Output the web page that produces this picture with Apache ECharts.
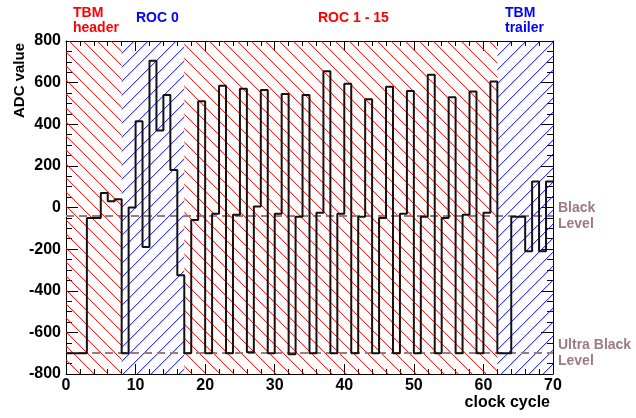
<!DOCTYPE html>
<html>
<head>
<meta charset="utf-8">
<script src="https://cdn.jsdelivr.net/npm/echarts@6/dist/echarts.min.js"></script>
<style>
  html, body { margin: 0; padding: 0; background: #fff; }
  #chart { width: 636px; height: 418px; }
</style>
</head>
<body>
<div id="chart"></div>
<script>
// ADC value of each clock cycle (bin i spans [i, i+1])
var adcValues = [
  -700, -700, -700, -50, -50, 70, 30, 40,
  -700, 0, 415, -190, 705, 370, 540, 180, -325,
  -700, -60, 510, -700, -30, 585, -700, -35, 570, -695, 5, 565,
  -700, -30, 545, -705, -45, 540, -700, -25, 655, -700, -30, 595,
  -700, -45, 520, -700, -50, 580, -700, -30, 560, -700, -45, 638,
  -700, -50, 530, -700, -35, 557, -700, -25, 605,
  -700, -700, -45, -45, -210, 125, -210, 125
];
// hatched regions: [from, to]
var regionEdges = [[0, 8], [8, 17], [17, 62], [62, 70]];
var regionKinds = ['red', 'blue', 'red', 'blue'];
var levelValues = [-40, -700];
var levelNames = ['Black\nLevel', 'Ultra Black\nLevel'];
var xTicks = [0, 10, 20, 30, 40, 50, 60, 70];
var yTicks = [-800, -600, -400, -200, 0, 200, 400, 600, 800];

var RED = '#ff0000';
var BLUE = '#0000ff';
var LEVEL = '#9c7a80';

function makeHatch (color, rgba, back) {
  var size = 14;
  var c = document.createElement('canvas');
  c.width = size;
  c.height = size;
  var ctx = c.getContext('2d');
  for (var i = 0; i < size; i++) {
    var x = back ? ((6 - i) % size + size) % size : i;
    ctx.fillStyle = color;
    ctx.fillRect(x, i, 1, 1);
    ctx.fillStyle = rgba;
    ctx.fillRect((x + 1) % size, i, 1, 1);
  }
  return { image: c, repeat: 'repeat' };
}

var hatches = {
  red: makeHatch('rgba(255,0,0,0.85)', 'rgba(255,0,0,0.2)', false),
  blue: makeHatch('rgba(0,0,255,0.8)', 'rgba(0,0,255,0.2)', true)
};

var lineData = [];
for (var i = 0; i < adcValues.length; i++) {
  lineData.push([i, adcValues[i]]);
}
lineData.push([adcValues.length, adcValues[adcValues.length - 1]]);

var areaData = regionEdges.map(function (r, i) {
  return [{ xAxis: r[0], itemStyle: { color: hatches[regionKinds[i]] } }, { xAxis: r[1] }];
});
var levelData = levelValues.map(function (v, i) {
  return { yAxis: v, label: { formatter: levelNames[i] } };
});

var labelFont = { fontFamily: 'Liberation Sans', fontWeight: 'bold', fontSize: 16, color: '#000' };

var chart = echarts.init(document.getElementById('chart'), null, { renderer: 'canvas' });
var option = {
  animation: false,
  backgroundColor: '#fff',
  grid: { left: 66, right: 83, top: 41, bottom: 44 },
  xAxis: [{
    type: 'value', min: xTicks[0], max: xTicks[xTicks.length - 1], interval: 10,
    axisLine: { onZero: false, lineStyle: { color: '#000', width: 1 } },
    axisTick: { inside: true, length: 10, lineStyle: { color: '#000' } },
    minorTick: { show: true, splitNumber: 5, length: 5, lineStyle: { color: '#000' } },
    axisLabel: Object.assign({ margin: 4 }, labelFont),
    splitLine: { show: false }
  }, {
    type: 'value', position: 'top', min: xTicks[0], max: xTicks[xTicks.length - 1], interval: 10,
    axisLine: { onZero: false, lineStyle: { color: '#000', width: 1 } },
    axisTick: { inside: true, length: 10, lineStyle: { color: '#000' } },
    minorTick: { show: true, splitNumber: 5, length: 5, lineStyle: { color: '#000' } },
    axisLabel: { show: false },
    splitLine: { show: false }
  }],
  yAxis: [{
    type: 'value', min: yTicks[0], max: yTicks[yTicks.length - 1], interval: 200,
    axisLine: { show: true, onZero: false, lineStyle: { color: '#000', width: 1 } },
    axisTick: { show: true, inside: true, length: 12, lineStyle: { color: '#000' } },
    minorTick: { show: true, splitNumber: 4, length: 6, lineStyle: { color: '#000' } },
    axisLabel: Object.assign({ margin: 5 }, labelFont),
    splitLine: { show: false }
  }, {
    type: 'value', position: 'right', min: yTicks[0], max: yTicks[yTicks.length - 1], interval: 200,
    axisLine: { show: true, onZero: false, lineStyle: { color: '#000', width: 1 } },
    axisTick: { show: true, inside: true, length: 12, lineStyle: { color: '#000' } },
    minorTick: { show: true, splitNumber: 4, length: 6, lineStyle: { color: '#000' } },
    axisLabel: { show: false },
    splitLine: { show: false }
  }],
  graphic: [
    { type: 'text', x: 73, y: 6, style: { text: 'TBM\nheader', fill: RED, font: 'bold 14px "Liberation Sans"', lineHeight: 15 } },
    { type: 'text', x: 136, y: 11, style: { text: 'ROC 0', fill: BLUE, font: 'bold 14px "Liberation Sans"' } },
    { type: 'text', x: 318, y: 11, style: { text: 'ROC 1 - 15', fill: RED, font: 'bold 14px "Liberation Sans"' } },
    { type: 'text', x: 505, y: 6, style: { text: 'TBM\ntrailer', fill: BLUE, font: 'bold 14px "Liberation Sans"', lineHeight: 15 } },
    { type: 'text', x: 20, y: 43, rotation: Math.PI / 2, style: { text: 'ADC value', fill: '#000', font: 'bold 15px "Liberation Sans"', align: 'right', verticalAlign: 'middle' } },
    { type: 'text', x: 550, y: 403, style: { text: 'clock cycle', fill: '#000', font: 'bold 16px "Liberation Sans"', align: 'right', verticalAlign: 'middle' } }
  ],
  series: [{
    type: 'line',
    step: 'end',
    symbol: 'none',
    data: lineData,
    lineStyle: { color: '#111', width: 2 },
    z: 3,
    markArea: {
      silent: true,
      z: 1,
      data: areaData
    },
    markLine: {
      silent: true,
      symbol: 'none',
      z: 2,
      lineStyle: { color: LEVEL, type: [8, 5], width: 2 },
      label: {
        position: 'end', distance: 5, color: LEVEL,
        fontFamily: 'Liberation Sans', fontWeight: 'bold', fontSize: 14, lineHeight: 16
      },
      data: levelData
    }
  }]
};
chart.setOption(option);
</script>
</body>
</html>
